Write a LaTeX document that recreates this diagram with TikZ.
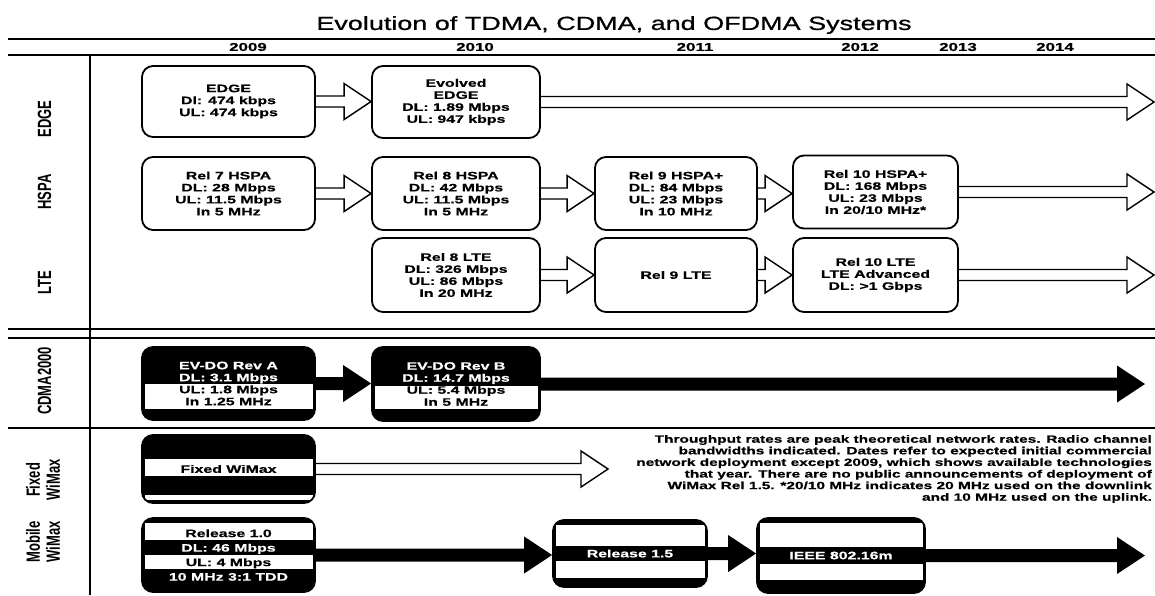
\documentclass[tikz,border=0pt]{standalone}
\usepackage{fontspec}
\setmainfont{Liberation Sans}
\newfontfamily\wide[FakeStretch=1.47, BoldFeatures={FakeBold=0.6}]{Liberation Sans}
\newfontfamily\widetitle[FakeStretch=1.42, FakeBold=0.8]{Liberation Sans}
\usetikzlibrary{calc}
\pgfdeclarelayer{bg}
\pgfsetlayers{bg,main}

% white bands inside the dark boxes (offsets from the top edge)
\newcommand\bandsRevA{37/62}
\newcommand\bandsRevB{39/62}
\newcommand\bandsFixed{24/41,60/65}
\newcommand\bandsRelOne{5/22,37/51}
\newcommand\bandsRelOneFive{5/26,41/58}
\newcommand\bandsSixteenM{5/29,46/62}

% open (outlined) arrow from a box to the next one
\newcommand\hollowarrow[2]{%
  \draw[line width=1.4pt, fill=white, line join=miter]
    let \p1=(#1), \p2=(#2) in
    (\x1,\y1+5.5pt) -- (\x2-27pt,\y1+5.5pt) -- (\x2-27pt,\y1+18pt) -- (\x2,\y1)
    -- (\x2-27pt,\y1-18pt) -- (\x2-27pt,\y1-5.5pt) -- (\x1,\y1-5.5pt);}
% solid black arrow
\newcommand\solidarrow[2]{%
  \fill let \p1=(#1), \p2=(#2) in
    (\x1,\y1+6.5pt) -- (\x2-28pt,\y1+6.5pt) -- (\x2-28pt,\y1+18.5pt) -- (\x2,\y1)
    -- (\x2-28pt,\y1-18.5pt) -- (\x2-28pt,\y1-6.5pt) -- (\x1,\y1-6.5pt) -- cycle;}

\begin{document}
\begin{tikzpicture}[x=1pt, y=-1pt,
  box/.style={draw=black, line width=1.8pt, rounded corners=11pt, fill=white,
    align=center, inner sep=0pt, text=black,
    font=\wide\bfseries\fontsize{10.8}{12}\selectfont},
  darkbox/.style={box, fill=black,
    path picture={\foreach \a/\b in #1 {\fill[white, sharp corners]
      ($(path picture bounding box.north west)+(2.5,\a)$) rectangle
      ($(path picture bounding box.north east)+(-2.5,\b)$);}}},
  wA/.style={minimum width=173pt},
  wB/.style={minimum width=168pt},
  wC/.style={minimum width=162pt},
  wD/.style={minimum width=165pt},
  rowlabel/.style={rotate=90, yscale=1.47, align=center, inner sep=0pt,
    font=\bfseries\fontsize{13}{13.5}\selectfont},
  year/.style={inner sep=0pt, font=\wide\bfseries\fontsize{11.5}{12}\selectfont},
  rule/.style={line width=#1}
]
\useasboundingbox (0,0) rectangle (1155,595);
\clip (0,0) rectangle (1155,595);

% title and year header
\node[inner sep=0pt, font=\widetitle\fontsize{19}{21}\selectfont] (title) at (614,25)
  {Evolution of TDMA, CDMA, and OFDMA Systems};
\node[year] (y2009) at (248,47) {2009};
\node[year] (y2010) at (475,47) {2010};
\node[year] (y2011) at (695,47) {2011};
\node[year] (y2012) at (860,47) {2012};
\node[year] (y2013) at (958,47) {2013};
\node[year] (y2014) at (1055,47) {2014};

% grid rules
\draw[rule=2.4pt] (8,39) -- (1155,39);
\draw[rule=1.8pt] (8,55) -- (1155,55);
\draw[rule=1.6pt] (8,329) -- (1155,329);
\draw[rule=1.6pt] (8,338) -- (1155,338);
\draw[rule=1.6pt] (8,428) -- (1155,428);
\draw[rule=1.5pt] (90,55) -- (90,595);

% row labels
\node[rowlabel] (lEdge) at (44.5,119) {EDGE};
\node[rowlabel] (lHspa) at (44.5,192) {HSPA};
\node[rowlabel] (lLte) at (44.5,283) {LTE};
\node[rowlabel] (lCdma) at (44.5,381) {CDMA2000};
\node[rowlabel] (lFixed) at (43,480) {Fixed\\WiMax};
\node[rowlabel] (lMobile) at (43,542) {Mobile\\WiMax};

% EDGE row
\node[box, wA, minimum height=71pt] (edge) at (228.5,101.5)
  {EDGE\\Dl: 474 kbps\\UL: 474 kbps};
\node[box, wB, minimum height=72pt] (eedge) at (456,102)
  {Evolved\\EDGE\\DL: 1.89 Mbps\\UL: 947 kbps};

% HSPA row
\node[box, wA, minimum height=73pt] (hspa7) at (228.5,193.5)
  {Rel 7 HSPA\\DL: 28 Mbps\\UL: 11.5 Mbps\\In 5 MHz};
\node[box, wB, minimum height=73pt] (hspa8) at (456,193.5)
  {Rel 8 HSPA\\DL: 42 Mbps\\UL: 11.5 Mbps\\In 5 MHz};
\node[box, wC, minimum height=73pt] (hspa9) at (676,193.5)
  {Rel 9 HSPA+\\DL: 84 Mbps\\UL: 23 Mbps\\In 10 MHz};
\node[box, wD, minimum height=73pt] (hspa10) at (875.5,192)
  {Rel 10 HSPA+\\DL: 168 Mbps\\UL: 23 Mbps\\In 20/10 MHz*};

% LTE row
\node[box, wB, minimum height=74pt] (lte8) at (456,275)
  {Rel 8 LTE\\DL: 326 Mbps\\UL: 86 Mbps\\In 20 MHz};
\node[box, wC, minimum height=74pt] (lte9) at (676,275) {Rel 9 LTE};
\node[box, wD, minimum height=74pt] (lte10) at (875.5,275)
  {Rel 10 LTE\\LTE Advanced\\DL: >1 Gbps};

% CDMA2000 row
\node[darkbox=\bandsRevA, wA, minimum height=73pt] (revA) at (228.5,383.5)
  {\textcolor{white}{EV-DO Rev A}\\\textcolor{white}{DL: 3.1 Mbps}\\UL: 1.8 Mbps\\In 1.25 MHz};
\node[darkbox=\bandsRevB, wB, minimum height=74pt] (revB) at (456,384)
  {\textcolor{white}{EV-DO Rev B}\\\textcolor{white}{DL: 14.7 Mbps}\\UL: 5.4 Mbps\\In 5 MHz};

% Fixed WiMax row
\node[darkbox=\bandsFixed, wA, minimum height=68pt] (fixed) at (228.5,469)
  {Fixed WiMax};

% Mobile WiMax row
\node[darkbox=\bandsRelOne, wA, minimum height=74pt,
  font=\wide\bfseries\fontsize{10.8}{14.5}\selectfont] (rel10) at (228.5,555)
  {Release 1.0\\\textcolor{white}{DL: 46 Mbps}\\UL: 4 Mbps\\\textcolor{white}{10 MHz 3:1 TDD}};
\node[darkbox=\bandsRelOneFive, minimum width=154pt, minimum height=67pt, text=white]
  (rel15) at (630,553.5) {Release 1.5};
\node[darkbox=\bandsSixteenM, wB, minimum height=75pt, text=white]
  (ieee) at (841,555.5) {IEEE 802.16m};

% explanatory note
\node[anchor=east, align=right, inner sep=0pt,
  font=\wide\bfseries\fontsize{10.5}{11.6}\selectfont] (note) at (1152,469)
  {Throughput rates are peak theoretical network rates. Radio channel\\
   bandwidths indicated. Dates refer to expected initial commercial\\
   network deployment except 2009, which shows available technologies\\
   that year. There are no public announcements of deployment of\\
   WiMax Rel 1.5. *20/10 MHz indicates 20 MHz used on the downlink\\
   and 10 MHz used on the uplink.};

% free ends of the arrows running on past the last box
\coordinate (endEdge) at (1154,101.5);
\coordinate (endHspa) at (1154,190.5);
\coordinate (endLte) at (1154,275);
\coordinate (endCdma) at (1145,383.5);
\coordinate (endFixed) at (608,470);
\coordinate (endMobile) at (1145,550);

\begin{pgfonlayer}{bg}
  \hollowarrow{edge.east}{eedge.west}
  \hollowarrow{eedge.east}{endEdge}
  \hollowarrow{hspa7.east}{hspa8.west}
  \hollowarrow{hspa8.east}{hspa9.west}
  \hollowarrow{hspa9.east}{hspa10.west}
  \hollowarrow{hspa10.east}{endHspa}
  \hollowarrow{lte8.east}{lte9.west}
  \hollowarrow{lte9.east}{lte10.west}
  \hollowarrow{lte10.east}{endLte}
  \solidarrow{revA.east}{revB.west}
  \solidarrow{revB.east}{endCdma}
  \hollowarrow{fixed.east}{endFixed}
  \solidarrow{rel10.east}{rel15.west}
  \solidarrow{rel15.east}{ieee.west}
  \solidarrow{ieee.east}{endMobile}
\end{pgfonlayer}
\end{tikzpicture}
\end{document}
